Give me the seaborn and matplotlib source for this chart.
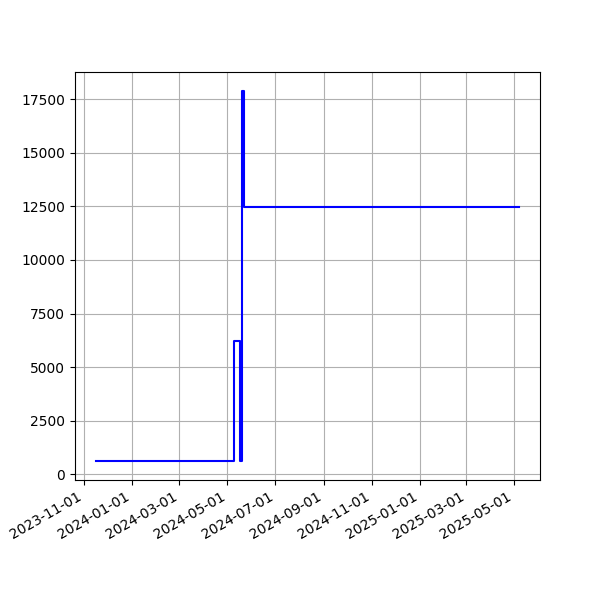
import pandas as pd
import seaborn as sns
import matplotlib
matplotlib.use("Agg")
import matplotlib.pyplot as plt
import matplotlib.dates as mdates

# change points of the series (value holds until the next date)
dates = ["2023-11-16", "2024-05-10", "2024-05-17", "2024-05-20", "2024-05-22", "2025-05-07"]
values = [600, 6200, 600, 17900, 12450, 12450]

df = pd.DataFrame({"date": pd.to_datetime(dates), "value": values})

fig, ax = plt.subplots(figsize=(6, 6), dpi=100)
sns.lineplot(data=df, x="date", y="value", color="blue", drawstyle="steps-post", ax=ax)

ax.xaxis.set_major_locator(mdates.MonthLocator(interval=2))
ax.xaxis.set_major_formatter(mdates.DateFormatter("%Y-%m-%d"))
ax.set_xlabel("")
ax.set_ylabel("")
ax.grid(True)
fig.autofmt_xdate()

plt.savefig("out.png", dpi=100)
